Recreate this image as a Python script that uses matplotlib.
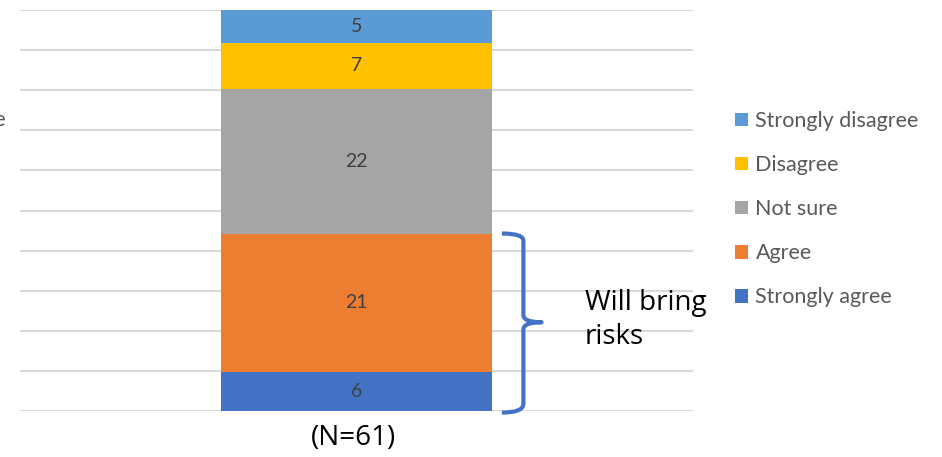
import matplotlib
matplotlib.use("Agg")
import matplotlib.pyplot as plt
from matplotlib.path import Path
from matplotlib.patches import PathPatch, Patch
import matplotlib.transforms as mtransforms

# Survey responses, bottom of the stack first
categories = ["Strongly agree", "Agree", "Not sure", "Disagree", "Strongly disagree"]
counts = [6, 21, 22, 7, 5]
colors = ["#4472C4", "#ED7D31", "#A5A5A5", "#FFC000", "#5B9BD5"]
bracket_label = "Will bring\nrisks"
n_label = "(N=61)"

total = sum(counts)
shares = [c / total for c in counts]

fig = plt.figure(figsize=(9.42, 4.57), dpi=100)
W, H = 942, 457
ax = fig.add_axes([20 / W, (H - 411) / H, 673 / W, 401 / H])

# 100% stacked single column
bottom = 0.0
for cat, share, cnt, col in zip(categories, shares, counts, colors):
    bars = ax.bar(0, share, width=0.403, bottom=bottom, color=col, label=cat, zorder=3)
    ax.bar_label(bars, labels=[str(cnt)], label_type="center",
                 color="#404040", fontsize=14, family="Lato")
    bottom += share

ax.set_xlim(-0.5, 0.5)
ax.set_ylim(0, 1)
ax.set_yticks([i / 10 for i in range(11)])
ax.yaxis.grid(True, color="#D9D9D9", linewidth=1.5, zorder=0)
ax.tick_params(left=False, bottom=False, labelleft=False, labelbottom=False)
for s in ax.spines.values():
    s.set_visible(False)

# Curly bracket spanning the "agree" segments
trans = mtransforms.blended_transform_factory(ax.transAxes, ax.transData)
y_top = shares[0] + shares[1]
y_bot = 0.0
y_mid = (y_top + y_bot) / 2
x0, x1, x2 = 0.716, 0.748, 0.775
d = 0.018
verts = [
    (x0, y_top), (x1, y_top), (x1, y_top - d),
    (x1, y_mid + d),
    (x1, y_mid), (x2, y_mid),
    (x1, y_mid), (x1, y_mid - d),
    (x1, y_bot + d),
    (x1, y_bot - 0.004), (x0, y_bot - 0.004),
]
codes = [Path.MOVETO, Path.CURVE3, Path.CURVE3,
         Path.LINETO,
         Path.CURVE3, Path.CURVE3,
         Path.CURVE3, Path.CURVE3,
         Path.LINETO,
         Path.CURVE3, Path.CURVE3]
ax.add_patch(PathPatch(Path(verts, codes), facecolor="none", edgecolor="#4472C4",
                       linewidth=3, transform=trans, clip_on=False, zorder=4,
                       capstyle="butt", joinstyle="round"))

fig.text(585 / W, 1 - 320 / H, bracket_label, fontsize=20, family="Open Sans",
         color="black", ha="left", va="center", linespacing=1.3)
fig.text(353 / W, 1 - 438 / H, n_label, fontsize=20, family="Open Sans",
         color="black", ha="center", va="center")

# partly cropped title text at the left edge
fig.text(5 / W, 1 - 120 / H, "e", fontsize=16, family="Lato", color="#595959",
         ha="right", va="center")

handles = [Patch(facecolor=c, label=l) for l, c in zip(categories[::-1], colors[::-1])]
leg = fig.legend(handles=handles, loc="upper left", bbox_to_anchor=(735 / W, 1 - 111 / H),
                 frameon=False, labelspacing=1.12, handlelength=0.6,
                 handleheight=0.6, handletextpad=0.35, borderpad=0, borderaxespad=0,
                 prop={"family": "Lato", "size": 15.5})
for t in leg.get_texts():
    t.set_color("#595959")

fig.savefig("out.png", dpi=100)
